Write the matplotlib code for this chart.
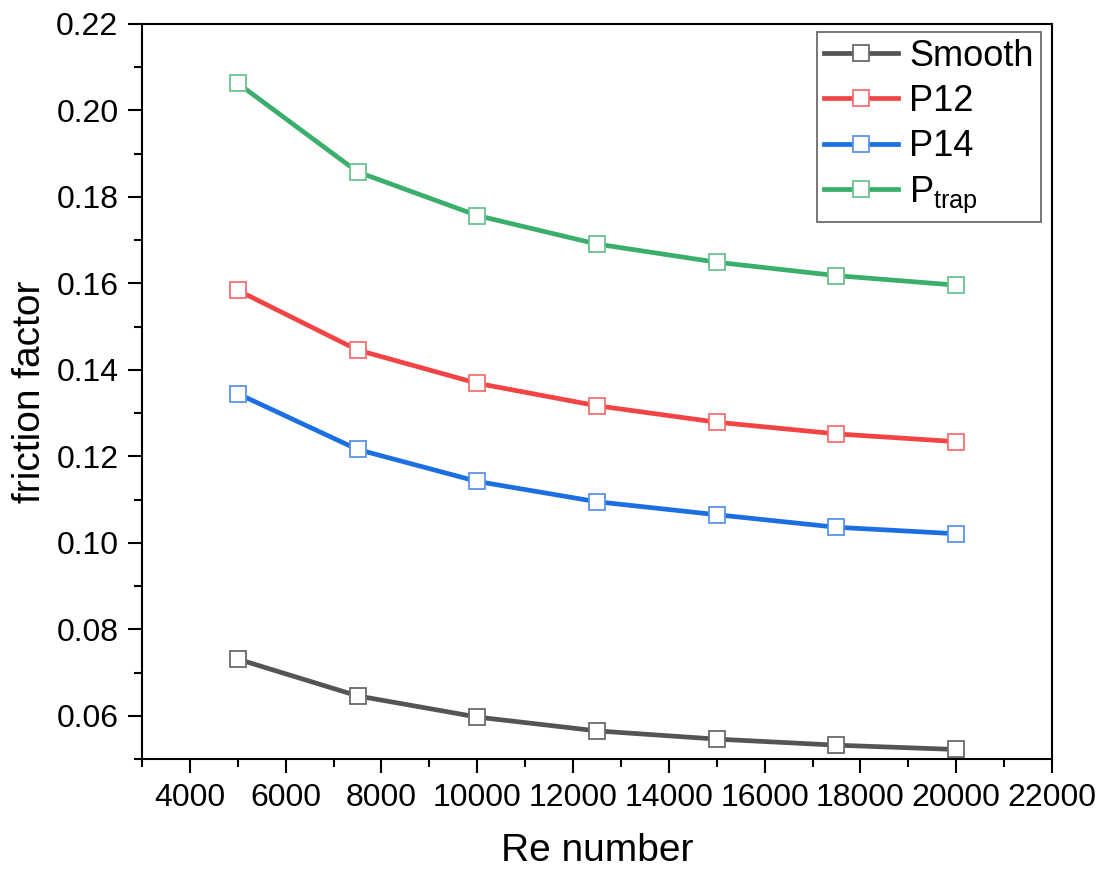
import matplotlib
matplotlib.use("Agg")
import matplotlib.pyplot as plt
from matplotlib.ticker import MultipleLocator

plt.rcParams['font.family'] = ['Liberation Sans', 'DejaVu Sans']
plt.rcParams['mathtext.fontset'] = 'custom'
plt.rcParams['mathtext.rm'] = 'Liberation Sans'

re_number = [5000, 7500, 10000, 12500, 15000, 17500, 20000]
smooth = [0.0731, 0.0646, 0.0597, 0.0565, 0.0546, 0.0532, 0.0522]
p12 = [0.1584, 0.1446, 0.1369, 0.1317, 0.1279, 0.1252, 0.1234]
p14 = [0.1345, 0.1216, 0.1142, 0.1095, 0.1065, 0.1036, 0.1021]
ptrap = [0.2063, 0.1858, 0.1757, 0.1691, 0.1649, 0.1618, 0.1596]

series_names = ['Smooth', 'P12', 'P14', 'P$_\\mathregular{trap}$']
line_colors = ['#545454', '#F24444', '#1C6FE0', '#3AAE6B']
edge_colors = ['#6A6A6A', '#F47070', '#5A94EA', '#6CC290']

fig = plt.figure(figsize=(11.01, 8.71), dpi=100)
ax = fig.add_axes([142/1101, 1-759/871, (1052-142)/1101, (759-24)/871])

for y, name, lc, ec in zip([smooth, p12, p14, ptrap], series_names, line_colors, edge_colors):
    ax.plot(re_number, y, color=lc, lw=3.4, marker='s', markersize=11,
            markerfacecolor='white', markeredgecolor=ec, markeredgewidth=1.3,
            label=name)

ax.set_xlim(3000, 22000)
ax.set_ylim(0.05, 0.22)
ax.xaxis.set_major_locator(MultipleLocator(2000))
ax.xaxis.set_minor_locator(MultipleLocator(1000))
ax.yaxis.set_major_locator(MultipleLocator(0.02))
ax.yaxis.set_minor_locator(MultipleLocator(0.01))
ax.yaxis.set_major_formatter(matplotlib.ticker.FormatStrFormatter('%.2f'))

ax.tick_params(which='major', direction='out', length=10, width=1.5, labelsize=23, pad=7,
               top=False, right=False)
ax.tick_params(which='minor', direction='out', length=5.5, width=1.5, top=False, right=False)
for s in ax.spines.values():
    s.set_linewidth(1.5)

ax.set_xlabel('Re number', fontsize=28, labelpad=15)
ax.set_ylabel('friction factor', fontsize=28, labelpad=6)

leg = ax.legend(loc='upper right', bbox_to_anchor=(1040.7/1101, 1-31.7/871),
                bbox_transform=fig.transFigure, fontsize=26, frameon=True, fancybox=False,
                edgecolor='#606060', framealpha=1, borderaxespad=0, handlelength=2.05,
                handletextpad=0.3, labelspacing=0.28, borderpad=0.2)
leg.get_frame().set_linewidth(1.2)

fig.savefig('out.png', dpi=100)
